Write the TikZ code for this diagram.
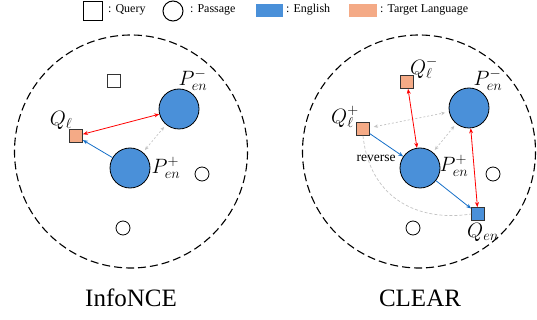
\documentclass[tikz,border=0pt]{standalone}
\usepackage{fontspec}
\setmainfont{Liberation Serif}
\usetikzlibrary{arrows.meta}
\definecolor{enblue}{RGB}{74,144,217}
\definecolor{tgorange}{RGB}{244,170,134}
\definecolor{arrblue}{RGB}{20,110,200}
\definecolor{lgray}{RGB}{195,195,195}
\tikzset{
  space/.style={draw=black,line width=1.1pt,dash pattern=on 8pt off 4pt},
  bigp/.style={circle,draw=black,line width=0.8pt,fill=enblue,minimum size=40pt,inner sep=0pt},
  smallp/.style={circle,draw=black,line width=0.8pt,fill=white,minimum size=14pt,inner sep=0pt},
  qbox/.style={rectangle,draw=black!80,line width=0.8pt,minimum size=13pt,inner sep=0pt},
  lbl/.style={inner sep=0pt,font=\fontsize{20}{22}\selectfont},
  legtxt/.style={anchor=west,inner sep=0pt,font=\fontsize{12}{14}\selectfont},
  redarr/.style={{Stealth[length=5pt,width=4pt]}-{Stealth[length=5pt,width=4pt]},red,line width=0.8pt},
  bluearr/.style={-{Stealth[length=5pt,width=4pt]},arrblue,line width=0.8pt},
  grayarr/.style={{Stealth[length=4pt,width=3.5pt]}-{Stealth[length=4pt,width=3.5pt]},lgray,line width=0.7pt,dash pattern=on 2pt off 2pt},
  title/.style={inner sep=0pt,font=\fontsize{25}{28}\selectfont}
}
\begin{document}
\begin{tikzpicture}[x=1pt,y=-1pt]
\useasboundingbox (0,0) rectangle (537,320);
% legend
\node[draw=black,line width=1pt,minimum size=19pt,inner sep=0pt] (lq) at (93,11.5) {};
\node[legtxt] (lqt) at (108,10) {: Query};
\node[circle,draw=black,line width=1pt,minimum size=20pt,inner sep=0pt] (lp) at (173,11) {};
\node[legtxt] (lpt) at (190,9.5) {: Passage};
\node[fill=enblue,minimum width=27pt,minimum height=13pt,inner sep=0pt] (le) at (269.5,10.5) {};
\node[legtxt] (let) at (286,9.5) {: English};
\node[fill=tgorange,minimum width=28pt,minimum height=13pt,inner sep=0pt] (ltg) at (363,10.5) {};
\node[legtxt] (ltgt) at (380,10) {: Target Language};

% ---------- InfoNCE ----------
\draw[space] (131,151.5) circle (116.5);
\node[qbox,fill=white] (q0) at (114,80.5) {};
\node[bigp] (pm) at (179,109) {};
\node[lbl] (pml) at (193,80) {$P_{en}^-$};
\node[qbox,fill=tgorange] (ql) at (76,136) {};
\node[lbl] (qll) at (61,120) {$Q_\ell$};
\node[bigp] (pp) at (130,168) {};
\node[lbl] (ppl) at (166,168) {$P_{en}^+$};
\node[smallp] (s1) at (202,174) {};
\node[smallp] (s2) at (123,228) {};
\draw[redarr] (ql) -- (pm);
\draw[bluearr] (pp) -- (ql);
\draw[grayarr,shorten <=3pt,shorten >=3pt] (pp) -- (pm);
\node[title] (t1) at (131,298) {InfoNCE};

% ---------- CLEAR ----------
\draw[space] (419,151.5) circle (116.5);
\node[qbox,fill=tgorange] (qlm) at (407,82) {};
\node[lbl] (qlml) at (424,68) {$Q_\ell^-$};
\node[bigp] (rpm) at (469,108) {};
\node[lbl] (rpml) at (488,80) {$P_{en}^-$};
\node[qbox,fill=tgorange] (qlp) at (363,129) {};
\node[lbl] (qlpl) at (345,117) {$Q_\ell^+$};
\node[bigp] (rpp) at (420,168) {};
\node[lbl] (rppl) at (454,166) {$P_{en}^+$};
\node[smallp] (s3) at (493,174) {};
\node[smallp] (s4) at (413,228) {};
\node[qbox,fill=enblue] (qen) at (478,214) {};
\node[lbl] (qenl) at (483,232) {$Q_{en}$};
\node[inner sep=0pt,font=\fontsize{13.5}{15}\selectfont] (rev) at (376,158) {reverse};
\draw[lgray,line width=0.7pt,dash pattern=on 3pt off 2pt] (qlp.south) .. controls (370,200) and (420,222) .. (qen.west);
\draw[grayarr,shorten <=4pt,shorten >=4pt] (qlp) -- (rpm);
\draw[grayarr,shorten <=3pt,shorten >=3pt] (rpp) -- (rpm);
\draw[redarr] (qlm) -- (rpp);
\draw[redarr] (rpm) -- (qen);
\draw[bluearr] (qlp) -- (rpp);
\draw[bluearr] (rpp) -- (qen);
\node[title] (t2) at (420,298) {CLEAR};
\end{tikzpicture}
\end{document}
